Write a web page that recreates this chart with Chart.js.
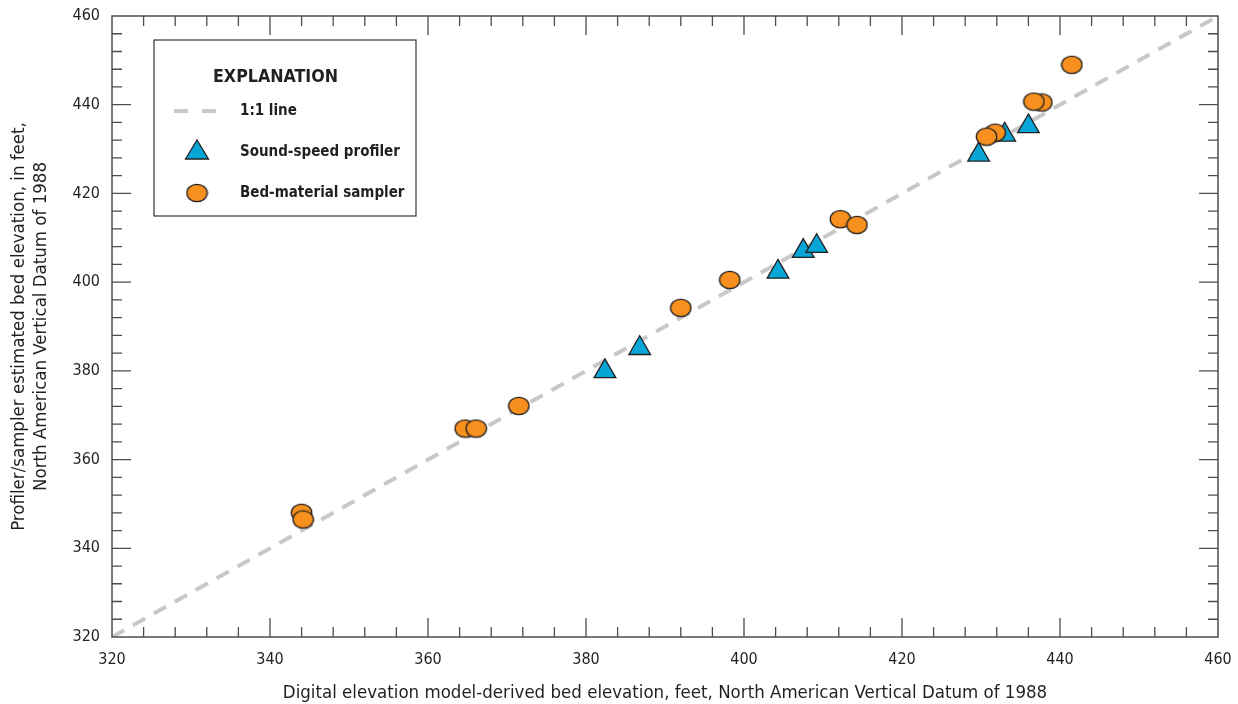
<!DOCTYPE html>
<html>
<head>
<meta charset="utf-8">
<script src="https://cdn.jsdelivr.net/npm/chart.js@4.4.1/dist/chart.umd.min.js"></script>
<style>
  html, body { margin: 0; padding: 0; background: #fff; }
  #wrap { width: 1238px; height: 704px; }
</style>
</head>
<body>
<div id="wrap"><canvas id="chart"></canvas></div>
<script>
// values (feet, NAVD 88)
const profilerX = [382.4, 386.8, 404.3, 407.5, 409.2, 429.7, 433.0, 436.0];
const profilerY = [379.9, 385.1, 402.3, 407.0, 408.1, 428.7, 433.2, 435.1];
const samplerX = [344.0, 344.2, 364.7, 366.1, 371.5, 392.0, 398.2, 412.2, 414.3, 431.8, 430.7, 437.7, 436.7, 441.5];
const samplerY = [348.0, 346.5, 367.0, 367.0, 372.1, 394.2, 400.5, 414.2, 412.9, 433.7, 432.8, 440.5, 440.7, 449.0];
const lineX = [320, 460];
const lineY = [320, 460];
const axisMin = 320, axisMax = 460, majorStep = 20, minorStep = 4;

const FONT = '"Liberation Sans Narrow", "DejaVu Sans Condensed", sans-serif';
const blue = '#08A6D6';
const orange = '#F7901E';
const edge = '#231F20';
const dashGrey = '#C8C8C8';

function pts(xs, ys) {
    return xs.map((x, i) => ({x: x, y: ys[i]}));
}

// slightly wide ellipse like the original symbols
function ellipseStyle() {
    const c = document.createElement('canvas');
    c.width = 23; c.height = 20;
    const g = c.getContext('2d');
    g.beginPath();
    g.ellipse(11.5, 10, 10.2, 8.7, 0, 0, Math.PI * 2);
    g.fillStyle = orange;
    g.fill();
    g.lineWidth = 1.3;
    g.strokeStyle = edge;
    g.stroke();
    return c;
}
const circleImg = ellipseStyle();

// frame with inward ticks on all four sides, plus explanation box
const framePlugin = {
    id: 'frame',
    afterDraw(chart) {
        const ctx = chart.ctx;
        const a = chart.chartArea;
        const xs = chart.scales.x, ys = chart.scales.y;
        ctx.save();
        ctx.strokeStyle = '#4d4d4d';
        ctx.lineWidth = 1.5;
        ctx.strokeRect(a.left, a.top, a.right - a.left, a.bottom - a.top);
        ctx.lineWidth = 1.3;
        for (let v = axisMin + minorStep; v < axisMax; v += minorStep) {
            const major = (v - axisMin) % majorStep === 0;
            const len = major ? 19 : 10;
            const px = xs.getPixelForValue(v);
            const py = ys.getPixelForValue(v);
            ctx.beginPath();
            ctx.moveTo(px, a.bottom); ctx.lineTo(px, a.bottom - len);
            ctx.moveTo(px, a.top); ctx.lineTo(px, a.top + len);
            ctx.moveTo(a.left, py); ctx.lineTo(a.left + len, py);
            ctx.moveTo(a.right, py); ctx.lineTo(a.right - len, py);
            ctx.stroke();
        }

        // explanation
        const bx = 154, by = 40, bw = 262, bh = 176;
        ctx.fillStyle = '#fff';
        ctx.fillRect(bx, by, bw, bh);
        ctx.strokeStyle = '#333';
        ctx.lineWidth = 1.2;
        ctx.strokeRect(bx, by, bw, bh);
        ctx.fillStyle = '#231F20';
        ctx.textBaseline = 'middle';
        ctx.font = 'bold 17.7px ' + FONT;
        ctx.fillText('EXPLANATION', 213, 77);
        ctx.font = 'bold 15px ' + FONT;
        ctx.fillText('1:1 line', 240, 111);
        ctx.fillText('Sound-speed profiler', 240, 152);
        ctx.fillText('Bed-material sampler', 240, 193);

        ctx.strokeStyle = dashGrey;
        ctx.lineWidth = 4;
        ctx.setLineDash([14, 14]);
        ctx.beginPath();
        ctx.moveTo(174, 111); ctx.lineTo(219, 111);
        ctx.stroke();
        ctx.setLineDash([]);

        // triangle
        ctx.beginPath();
        ctx.moveTo(197, 140);
        ctx.lineTo(208.5, 159);
        ctx.lineTo(185.5, 159);
        ctx.closePath();
        ctx.fillStyle = blue;
        ctx.fill();
        ctx.strokeStyle = edge;
        ctx.lineWidth = 1.3;
        ctx.stroke();

        ctx.drawImage(circleImg, 197 - 11.5, 193 - 10);
        ctx.restore();
    }
};

new Chart(document.getElementById('chart'), {
    type: 'scatter',
    data: {
        datasets: [{
            label: '1:1 line',
            type: 'line',
            data: pts(lineX, lineY),
            borderColor: dashGrey,
            borderWidth: 4,
            borderDash: [14, 10],
            pointRadius: 0,
            fill: false,
            order: 3
        }, {
            label: 'Sound-speed profiler',
            data: pts(profilerX, profilerY),
            pointStyle: 'triangle',
            pointRadius: 12.5,
            backgroundColor: blue,
            borderColor: edge,
            borderWidth: 1.3,
            order: 2
        }, {
            label: 'Bed-material sampler',
            data: pts(samplerX, samplerY),
            pointStyle: circleImg,
            pointRadius: 10,
            order: 1
        }]
    },
    options: {
        responsive: true,
        maintainAspectRatio: false,
        animation: false,
        events: [],
        layout: {
            padding: {top: 16, right: 20, left: 0, bottom: 0}
        },
        plugins: {
            legend: {display: false},
            tooltip: {enabled: false}
        },
        scales: {
            x: {
                type: 'linear',
                min: axisMin,
                max: axisMax,
                grid: {display: false, drawTicks: false},
                border: {display: false},
                ticks: {
                    stepSize: majorStep,
                    padding: 13,
                    color: '#231F20',
                    font: {family: FONT, size: 16}
                },
                title: {
                    display: true,
                    text: 'Digital elevation model-derived bed elevation, feet, North American Vertical Datum of 1988',
                    color: '#231F20',
                    font: {family: FONT, size: 18.5},
                    padding: {top: 10, bottom: 0}
                },
                afterFit(scale) {
                    scale.height = 67;
                    scale.paddingLeft = 0;
                    scale.paddingRight = 0;
                }
            },
            y: {
                type: 'linear',
                min: axisMin,
                max: axisMax,
                grid: {display: false, drawTicks: false},
                border: {display: false},
                ticks: {
                    stepSize: majorStep,
                    padding: 12,
                    color: '#231F20',
                    font: {family: FONT, size: 16}
                },
                title: {
                    display: true,
                    text: ['Profiler/sampler estimated bed elevation, in feet,', 'North American Vertical Datum of 1988'],
                    color: '#231F20',
                    font: {family: FONT, size: 18.5, lineHeight: 1.2},
                    padding: {top: 8, bottom: 0}
                },
                afterFit(scale) {
                    scale.width = 112;
                    scale.paddingTop = 0;
                    scale.paddingBottom = 0;
                }
            }
        }
    },
    plugins: [framePlugin]
});
</script>
</body>
</html>
